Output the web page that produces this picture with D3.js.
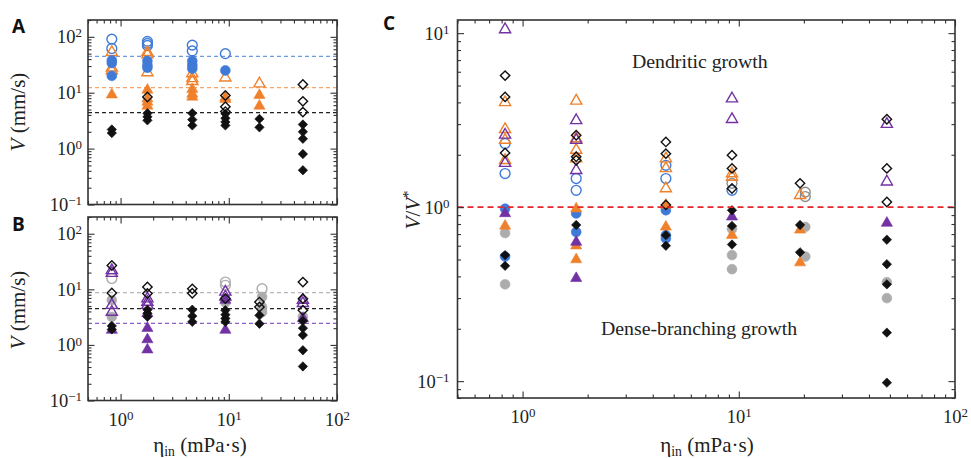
<!DOCTYPE html>
<html>
<head>
<meta charset="utf-8">
<script src="https://cdn.jsdelivr.net/npm/d3@7"></script>
<style>
	body { margin: 0; background: #fff; }
	svg { display: block; }
</style>
</head>
<body>
<div id="chart"></div>
<script>

// DATA  ([eta_in (mPa·s), value])

// panel A : V (mm/s)
const blueOpenA = [[0.83, 91], [0.83, 62], [1.77, 83], [1.77, 76], [1.77, 70], [4.6, 71], [4.6, 56], [9.3, 50]];
const blueFilledA = [[0.83, 38], [0.83, 34], [0.83, 20], [1.77, 37], [1.77, 31], [1.77, 28], [4.6, 37], [4.6, 31], [4.6, 27], [9.3, 25]];
const orangeOpenA = [[0.83, 53], [0.83, 28], [0.83, 25], [1.77, 53], [1.77, 48], [1.77, 23], [4.6, 22], [4.6, 18], [4.6, 16], [9.3, 18.5], [19.2, 14.5]];
const orangeFilledA = [[0.83, 9.2], [1.77, 11.2], [1.77, 7.8], [1.77, 6.8], [1.77, 5.8], [4.6, 11.5], [4.6, 9.5], [4.6, 8.4], [9.3, 8.2], [9.3, 7.6], [19.2, 9.0], [19.2, 5.8]];
const blackOpenA = [[1.77, 8.4], [9.3, 8.9], [9.3, 5.6], [9.3, 4.6], [48.4, 14], [48.4, 7.0], [48.4, 4.5]];
const vStarA = [44.7, 12.3, 4.4];   // blue, orange, black

// panel B : V (mm/s)
const grayOpenB = [[0.83, 15.7], [9.3, 13.5], [9.3, 11.8], [20.3, 10.3]];
const grayFilledB = [[0.83, 6.4], [0.83, 3.2], [9.3, 5.8], [20.3, 7.3], [20.3, 4.8], [20.3, 3.9], [48.4, 3.2]];
const purpleOpenB = [[0.83, 21.9], [0.83, 19.5], [0.83, 5.2], [0.83, 3.9], [1.77, 6.8], [1.77, 5.9], [1.77, 5.2], [9.3, 9.0], [9.3, 7.3], [48.4, 6.4], [48.4, 5.6]];
const purpleFilledB = [[0.83, 1.85], [1.77, 3.7], [1.77, 2.0], [1.77, 1.25], [1.77, 0.82], [9.3, 6.4], [9.3, 1.85], [48.4, 3.0]];
const blackOpenB = [[0.83, 26.8], [0.83, 8.6], [1.77, 11], [1.77, 8.4], [4.6, 10.2], [4.6, 8.5], [9.3, 6.8], [19.2, 5.9], [19.2, 4.8], [48.4, 13.5], [48.4, 6.8], [48.4, 4.2]];
const vStarB = [8.7, 4.5, 2.45];    // gray, black, purple

// black filled diamonds, same in A and B
const blackFilled = [[0.83, 2.2], [0.83, 1.9], [1.77, 4.3], [1.77, 3.7], [1.77, 3.2], [4.6, 4.3], [4.6, 3.3], [4.6, 2.6], [9.3, 4.2], [9.3, 3.5], [9.3, 3.0], [9.3, 2.6], [19.2, 3.4], [19.2, 2.4], [48.4, 2.7], [48.4, 2.0], [48.4, 1.5], [48.4, 0.8], [48.4, 0.41]];

// panel C : V/V*
const grayOpenC = [[9.3, 1.37], [20.3, 1.22], [20.3, 1.15]];
const blueOpenC = [[0.83, 2.32], [0.83, 1.56], [1.77, 1.46], [1.77, 1.25], [4.6, 1.74], [4.6, 1.46], [9.3, 1.25]];
const orangeOpenC = [[0.83, 4.0], [0.83, 2.8], [0.83, 2.43], [0.83, 1.86], [1.77, 4.08], [1.77, 2.48], [1.77, 2.13], [1.77, 1.9], [4.6, 1.9], [4.6, 1.67], [4.6, 1.28], [9.3, 1.56], [9.3, 1.49], [19.2, 1.17]];
const purpleOpenC = [[0.83, 10.5], [0.83, 2.6], [0.83, 1.79], [1.77, 3.15], [1.77, 2.43], [1.77, 1.63], [9.3, 4.2], [9.3, 3.2], [48.4, 3.0], [48.4, 1.4]];
const blackOpenC = [[0.83, 5.7], [0.83, 4.3], [0.83, 2.05], [1.77, 2.59], [1.77, 1.95], [1.77, 1.86], [4.6, 2.37], [4.6, 2.03], [4.6, 1.03], [9.3, 1.99], [9.3, 1.67], [9.3, 1.28], [19.2, 1.37], [48.4, 3.2], [48.4, 1.67], [48.4, 1.07]];
const grayFilledC = [[0.83, 0.71], [0.83, 0.36], [9.3, 0.75], [9.3, 0.53], [9.3, 0.44], [20.3, 0.77], [20.3, 0.52], [48.4, 0.37], [48.4, 0.30]];
const blueFilledC = [[0.83, 0.98], [0.83, 0.52], [1.77, 0.92], [1.77, 0.72], [4.6, 0.96], [4.6, 0.69], [4.6, 0.66]];
const orangeFilledC = [[0.83, 0.78], [1.77, 0.98], [1.77, 0.6], [1.77, 0.5], [4.6, 1.03], [4.6, 0.77], [9.3, 0.69], [19.2, 0.74], [19.2, 0.48]];
const purpleFilledC = [[0.83, 0.92], [1.77, 0.63], [1.77, 0.39], [9.3, 0.88], [48.4, 0.81]];
const blackFilledC = [[0.83, 0.53], [0.83, 0.46], [1.77, 0.79], [4.6, 0.69], [4.6, 0.60], [9.3, 0.96], [9.3, 0.78], [9.3, 0.61], [19.2, 0.79], [19.2, 0.55], [48.4, 0.65], [48.4, 0.47], [48.4, 0.36], [48.4, 0.19], [48.4, 0.098]];




// STYLE
const SERIF = "Liberation Serif, Times New Roman, serif";
const COLOR = {
	blue: "#3f7bd6",
	orange: "#f0812c",
	black: "#111111",
	gray: "#acacac",
	purple: "#7232a3"
};
const DASH = {
	blue: "#6d9be0",
	orange: "#f3a468",
	black: "#222222",
	gray: "#bdb4bb",
	purple: "#8b5fc4"
};


// svg
const svg = d3.select("#chart")
	.append("svg")
	.attr("width", 971)
	.attr("height", 458)
	.attr("font-family", SERIF);


// log ticks inside a domain
function logTicks(lo, hi) {
	const major = [], minor = [];
	for (let e = -3; e <= 3; e++) {
		for (let m = 1; m < 10; m++) {
			const v = m * Math.pow(10, e);
			if (v < lo * 0.999 || v > hi * 1.001) continue;
			if (m === 1) major.push(v); else minor.push(v);
		}
	}
	return { major, minor };
}

// "10" with a superscript exponent
function powLabel(sel) {
	sel.each(function(d) {
		const e = Math.round(Math.log10(d));
		const t = d3.select(this);
		t.text("10");
		t.append("tspan")
			.attr("dy", "-0.45em")
			.attr("font-size", "0.7em")
			.text(e < 0 ? "\u2212" + (-e) : e);
	});
}


// frame + inward ticks on four sides
function frame(g, x, y, showX, padY) {
	const [x0, x1] = x.range();
	const [y1, y0] = y.range();
	const xt = logTicks(...x.domain());
	const yt = logTicks(...y.domain());

	const axes = [
		[d3.axisBottom(x), xt, `translate(0,${y1})`, showX, 12],
		[d3.axisTop(x), xt, `translate(0,${y0})`, false, 0],
		[d3.axisLeft(y), yt, `translate(${x0},0)`, true, padY],
		[d3.axisRight(y), yt, `translate(${x1},0)`, false, 0]
	];
	axes.forEach(([ax, t, tr, lab, pad]) => {
		// minor
		g.append("g")
			.attr("transform", tr)
			.call(ax.tickValues(t.minor).tickSizeInner(-3.5).tickSizeOuter(0).tickFormat(""))
			.call(s => s.select(".domain").remove());
		// major
		const a = g.append("g")
			.attr("transform", tr)
			.call(ax.tickValues(t.major).tickSizeInner(-6.5).tickSizeOuter(0).tickPadding(pad).tickFormat(d => d))
			.attr("font-family", SERIF)
			.attr("font-size", 18.5)
			.call(s => s.select(".domain").remove());
		if (lab) a.selectAll("text").attr("fill", "#222").call(powLabel);
		else a.selectAll("text").remove();
	});
	g.selectAll(".tick line").attr("stroke", "#333").attr("stroke-width", 1.1);

	g.append("rect")
		.attr("x", x0).attr("y", y0)
		.attr("width", x1 - x0).attr("height", y1 - y0)
		.attr("fill", "none")
		.attr("stroke", "#333")
		.attr("stroke-width", 1.6);
}


// markers
const SHAPE = {
	circle: d3.symbol().type(d3.symbolCircle).size(76),
	triangle: d3.symbol().type(d3.symbolTriangle).size(54),
	diamond: d3.symbol().type(d3.symbolSquare).size(44)
};
function plot(g, x, y, data, shape, color, filled) {
	g.selectAll(null)
		.data(data)
		.enter()
		.append("path")
		.attr("d", SHAPE[shape])
		.attr("transform", d => `translate(${x(d[0])},${y(d[1])})` + (shape === "diamond" ? " rotate(45)" : ""))
		.attr("fill", filled ? color : "none")
		.attr("stroke", color)
		.attr("stroke-width", filled ? 0.6 : 1.4);
}

function hline(g, x, y, v, color, dash, width) {
	g.append("line")
		.attr("x1", x.range()[0]).attr("x2", x.range()[1])
		.attr("y1", y(v)).attr("y2", y(v))
		.attr("stroke", color)
		.attr("stroke-width", width)
		.attr("stroke-dasharray", dash);
}


// axis titles
function vLabel(x, y) {
	const t = svg.append("text")
		.attr("transform", `translate(${x},${y}) rotate(-90)`)
		.attr("text-anchor", "middle")
		.attr("font-family", SERIF)
		.attr("font-size", 21)
		.attr("fill", "#222");
	t.append("tspan").attr("font-style", "italic").text("V");
	t.append("tspan").text(" (mm/s)");
}
function etaLabel(x, y) {
	const t = svg.append("text")
		.attr("x", x).attr("y", y)
		.attr("text-anchor", "middle")
		.attr("font-family", SERIF)
		.attr("font-size", 21)
		.attr("fill", "#222");
	t.append("tspan").text("\u03b7");
	t.append("tspan").attr("font-size", "0.65em").attr("dy", "0.3em").text("in");
	t.append("tspan").attr("dy", "-0.2em").text(" (mPa\u00b7s)");
}
function panelLetter(txt, x, y) {
	svg.append("text")
		.attr("x", x).attr("y", y)
		.attr("font-family", "Open Sans, DejaVu Sans, sans-serif")
		.attr("font-weight", "bold")
		.attr("font-size", 19)
		.attr("fill", "#111")
		.text(txt);
}




// PANEL A
const xAB = d3.scaleLog().domain([0.5, 100]).range([88, 337]);
const yA = d3.scaleLog().domain([0.1, 200]).range([204.5, 20]);
const gA = svg.append("g");
hline(gA, xAB, yA, vStarA[0], DASH.blue, "4,3", 1.2);
hline(gA, xAB, yA, vStarA[1], DASH.orange, "4,3", 1.2);
hline(gA, xAB, yA, vStarA[2], DASH.black, "4,3", 1.2);
plot(gA, xAB, yA, blueOpenA, "circle", COLOR.blue, false);
plot(gA, xAB, yA, orangeOpenA, "triangle", COLOR.orange, false);
plot(gA, xAB, yA, blueFilledA, "circle", COLOR.blue, true);
plot(gA, xAB, yA, orangeFilledA, "triangle", COLOR.orange, true);
plot(gA, xAB, yA, blackFilled, "diamond", COLOR.black, true);
plot(gA, xAB, yA, blackOpenA, "diamond", COLOR.black, false);
frame(gA, xAB, yA, false, 6);


// PANEL B
const yB = d3.scaleLog().domain([0.1, 200]).range([400.5, 217]);
const gB = svg.append("g");
hline(gB, xAB, yB, vStarB[0], DASH.gray, "4,3", 1.2);
hline(gB, xAB, yB, vStarB[1], DASH.black, "4,3", 1.2);
hline(gB, xAB, yB, vStarB[2], DASH.purple, "4,3", 1.2);
plot(gB, xAB, yB, grayOpenB, "circle", COLOR.gray, false);
plot(gB, xAB, yB, grayFilledB, "circle", COLOR.gray, true);
plot(gB, xAB, yB, purpleOpenB, "triangle", COLOR.purple, false);
plot(gB, xAB, yB, purpleFilledB, "triangle", COLOR.purple, true);
plot(gB, xAB, yB, blackFilled, "diamond", COLOR.black, true);
plot(gB, xAB, yB, blackOpenB, "diamond", COLOR.black, false);
frame(gB, xAB, yB, true, 6);


// PANEL C
const xC = d3.scaleLog().domain([0.5, 100]).range([457.5, 955]);
const yC = d3.scaleLog().domain([0.08, 11.9]).range([398, 20]);
const gC = svg.append("g");
plot(gC, xC, yC, grayFilledC, "circle", COLOR.gray, true);
plot(gC, xC, yC, grayOpenC, "circle", "#8c8c8c", false);
plot(gC, xC, yC, blueOpenC, "circle", COLOR.blue, false);
plot(gC, xC, yC, blueFilledC, "circle", COLOR.blue, true);
plot(gC, xC, yC, orangeOpenC, "triangle", COLOR.orange, false);
plot(gC, xC, yC, orangeFilledC, "triangle", COLOR.orange, true);
plot(gC, xC, yC, purpleOpenC, "triangle", COLOR.purple, false);
plot(gC, xC, yC, purpleFilledC, "triangle", COLOR.purple, true);
plot(gC, xC, yC, blackOpenC, "diamond", COLOR.black, false);
plot(gC, xC, yC, blackFilledC, "diamond", COLOR.black, true);
hline(gC, xC, yC, 1, "#e8262b", "6,4", 1.6);
frame(gC, xC, yC, true, 8);

svg.append("text")
	.attr("x", 632).attr("y", 68)
	.attr("font-family", SERIF)
	.attr("font-size", 19.8)
	.attr("fill", "#222")
	.text("Dendritic growth");
svg.append("text")
	.attr("x", 601).attr("y", 335)
	.attr("font-family", SERIF)
	.attr("font-size", 19.8)
	.attr("fill", "#222")
	.text("Dense-branching growth");


// labels
vLabel(25, 112);
vLabel(25, 310);
etaLabel(200, 452);
etaLabel(707, 452);
const tc = svg.append("text")
	.attr("transform", "translate(420,210) rotate(-90)")
	.attr("text-anchor", "middle")
	.attr("font-family", SERIF)
	.attr("font-size", 21)
	.attr("fill", "#222");
tc.append("tspan").attr("font-style", "italic").text("V");
tc.append("tspan").text("/");
tc.append("tspan").attr("font-style", "italic").text("V");
tc.append("tspan").attr("font-size", "0.7em").attr("dy", "-0.5em").text("*");

panelLetter("A", 12, 33);
panelLetter("B", 12, 231);
panelLetter("C", 383, 30);

</script>
</body>
</html>
